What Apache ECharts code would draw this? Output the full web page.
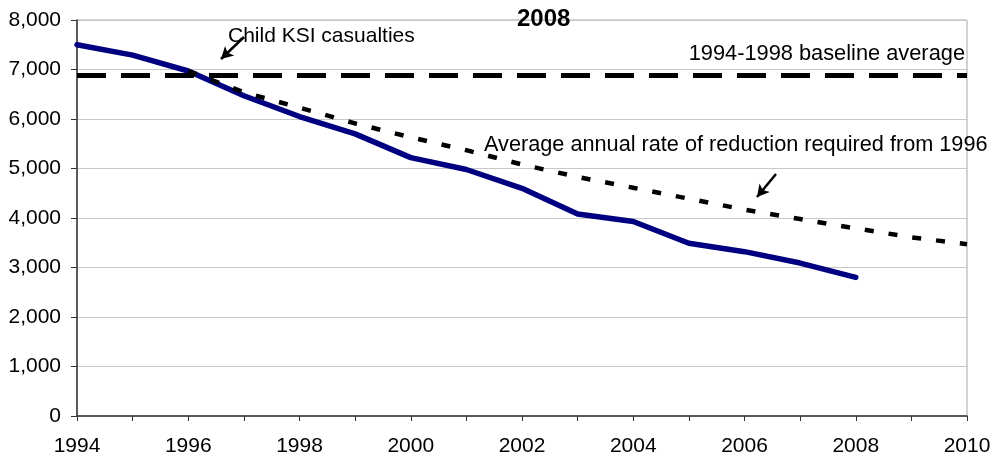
<!DOCTYPE html>
<html>
<head>
<meta charset="utf-8">
<script src="https://cdn.jsdelivr.net/npm/echarts@6/dist/echarts.min.js"></script>
<style>
html,body{margin:0;padding:0;background:#fff;}
#chart{width:994px;height:459px;}
</style>
</head>
<body>
<div id="chart"></div>
<script>
var years = ['1994','1995','1996','1997','1998','1999','2000','2001','2002','2003','2004','2005','2006','2007','2008','2009','2010'];
var childKSI = [7500, 7290, 6970, 6470, 6050, 5700, 5220, 4980, 4600, 4080, 3930, 3490, 3320, 3090, 2800, null, null];
var requiredReduction = [null, null, 6970, 6540, 6230, 5910, 5630, 5370, 5080, 4830, 4610, 4390, 4170, 3980, 3790, 3610, 3470];
var baselineAverage = 6880;
var yTicks = [0, 1000, 2000, 3000, 4000, 5000, 6000, 7000, 8000];

var FONT = 'Liberation Sans, Arial, sans-serif';
var chart = echarts.init(document.getElementById('chart'), null, {renderer: 'canvas'});

var option = {
  backgroundColor: '#ffffff',
  animation: false,
  title: {
    text: '2008',
    left: 512,
    top: 2,
    textStyle: {fontFamily: FONT, fontSize: 24, fontWeight: 'bold', color: '#000'}
  },
  grid: {
    left: 77, right: 27, top: 20, bottom: 43,
    show: true, borderColor: '#a6a6a6', borderWidth: 1, backgroundColor: 'transparent'
  },
  xAxis: {
    type: 'category',
    data: years,
    boundaryGap: false,
    axisLine: {show: true, lineStyle: {color: '#333', width: 1.5}},
    axisTick: {show: true, interval: 0, length: 5, inside: false, lineStyle: {color: '#333', width: 1}},
    axisLabel: {interval: 1, margin: 20, fontFamily: FONT, fontSize: 21, color: '#000'},
    splitLine: {show: false}
  },
  yAxis: {
    type: 'value',
    min: yTicks[0],
    max: yTicks[yTicks.length - 1],
    interval: 1000,
    axisLine: {show: true, lineStyle: {color: '#333', width: 1.5}},
    axisTick: {show: true, length: 6, lineStyle: {color: '#333', width: 1}},
    axisLabel: {
      margin: 16, fontFamily: FONT, fontSize: 21, color: '#000',
      formatter: function (v) { return v.toLocaleString('en-US'); }
    },
    splitLine: {show: true, lineStyle: {color: '#c8c8c8', width: 1}}
  },
  series: [
    {
      name: 'Child KSI casualties',
      type: 'line',
      data: childKSI,
      symbol: 'none',
      z: 3,
      lineStyle: {color: '#000080', width: 5.5, join: 'round', cap: 'round'},
      markLine: {
        silent: true,
        symbol: ['none', 'none'],
        label: {show: false},
        lineStyle: {color: '#000', width: 5, type: [29, 15]},
        data: [{yAxis: baselineAverage}]
      }
    },
    {
      name: 'Average annual rate of reduction required from 1996',
      type: 'line',
      data: requiredReduction,
      symbol: 'none',
      z: 4,
      lineStyle: {color: '#000', width: 4.5, type: [9, 15]}
    },
    {
      name: 'arrows',
      type: 'line',
      data: [],
      markLine: {
        silent: true,
        symbol: ['none', 'arrow'],
        symbolSize: [10, 12],
        label: {show: false},
        lineStyle: {color: '#000', width: 2.5, type: 'solid'},
        data: [
          [{x: 244, y: 37}, {x: 221, y: 59}],
          [{x: 776, y: 174}, {x: 757, y: 197}]
        ]
      }
    }
  ],
  graphic: [
    {type: 'text', left: 228, top: 26, style: {text: 'Child KSI casualties', font: '21px ' + FONT, fill: '#000'}},
    {type: 'text', right: 29, top: 43, style: {text: '1994-1998 baseline average', font: '21.8px ' + FONT, fill: '#000'}},
    {type: 'text', left: 484, top: 134, style: {text: 'Average annual rate of reduction required from 1996', font: '21.7px ' + FONT, fill: '#000'}}
  ]
};
chart.setOption(option);
</script>
</body>
</html>
